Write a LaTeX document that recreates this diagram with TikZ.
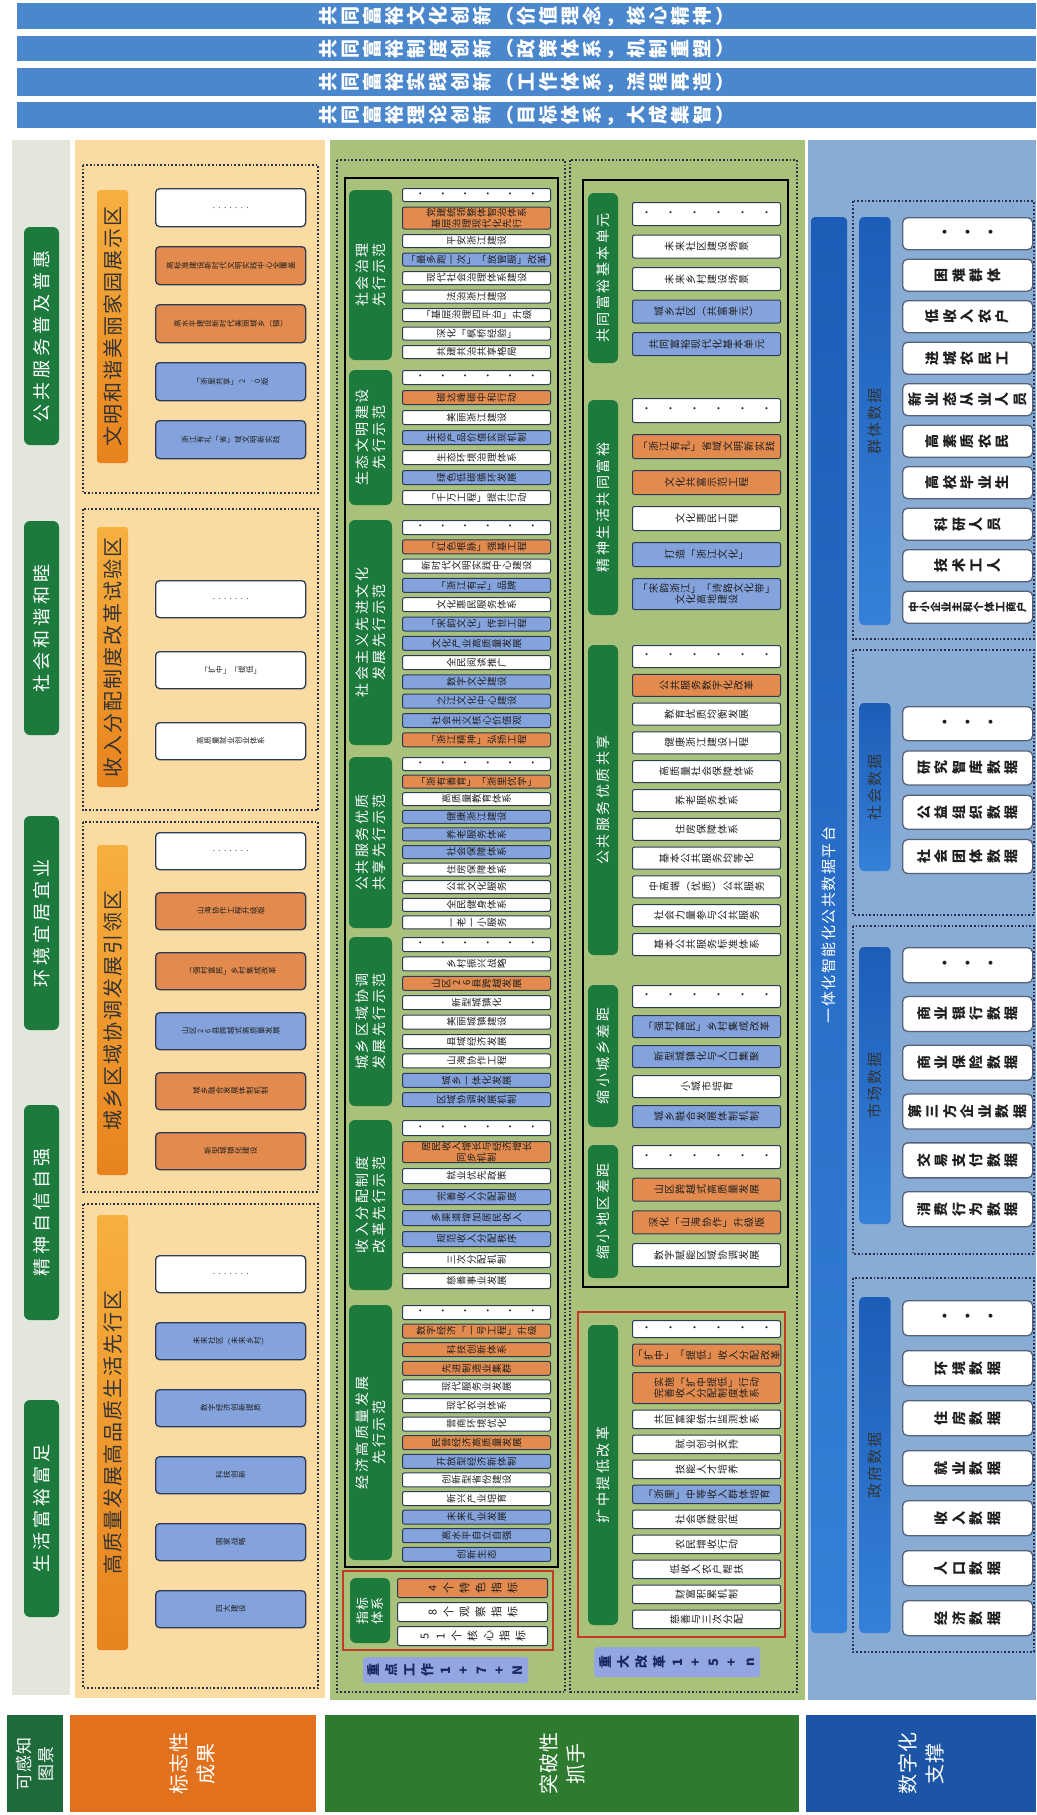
\documentclass[tikz,border=0pt]{standalone}
\usepackage{fontspec}
\setmainfont{Noto Sans CJK SC}
\makeatletter
\newdimen\vtsp
\newdimen\spsp
\newif\ifnr@
\def\vt@bar{|}
\def\nr@a{（}\def\nr@b{）}\def\nr@c{「}\def\nr@d{」}\def\nr@e{，}
\def\vt@ch{\nr@false
  \ifx\vt@c\nr@a\nr@true\fi\ifx\vt@c\nr@b\nr@true\fi\ifx\vt@c\nr@c\nr@true\fi
  \ifx\vt@c\nr@d\nr@true\fi\ifx\vt@c\nr@e\nr@true\fi
  \kern.5\vtsp\ifnr@\raisebox{0pt}[.88em][.12em]{\vt@c}\else\rotatebox[origin=c]{90}{\raisebox{0pt}[.88em][.12em]{\vt@c}}\fi\kern.5\vtsp}
\def\sp@ch{\kern.5\spsp\vt@c\kern.5\spsp}
\def\vt@loop#1{\@tfor\vt@c:=#1\do{\vt@ch}}
\def\sp@loop#1{\@tfor\vt@c:=#1\do{\sp@ch}}
\def\vt@chk#1|#2\@nil{\vt@loop{#1}\ifx\relax#2\relax\expandafter\@gobble\else\expandafter\@firstofone\fi{\\\vt@second#2}}
\def\vt@second#1|{\vt@loop{#1}}
\def\sp@chk#1|#2\@nil{\sp@loop{#1}\ifx\relax#2\relax\expandafter\@gobble\else\expandafter\@firstofone\fi{\\\sp@second#2}}
\def\sp@second#1|{\sp@loop{#1}}
\newcommand\vt[1]{\edef\vt@t{#1}\expandafter\vt@chk\vt@t|\@nil}
\newcommand\spx[1]{\edef\vt@t{#1}\expandafter\sp@chk\vt@t|\@nil}
\makeatother
\def\dmark{D}
\newcommand\dl[3]{\foreach \k in {1,...,#1}{\ifnum\k>1\hskip#2\relax\fi#3}}
\def\dotsline{}
\newcommand\blist[7][]{%
  \xdef\cury{#5}%
  \foreach \c/\h/\t [count=\i] in {#7}{%
    \ifx\t\dmark\let\nodetxt\dotsline\else\def\nodetxt{\vt{\t}}\fi
    \node[sbox,#1,fill=\c,minimum width=#4-#3,minimum height=\h,anchor=north west] (#2-\i) at (#3,\cury) {\nodetxt};
    \pgfmathsetmacro\nxt{\cury+\h+#6}%
    \xdef\cury{\nxt}}}
\definecolor{bW}{HTML}{FFFFFF}
\definecolor{bO}{HTML}{E38B4E}
\definecolor{bB}{HTML}{84A3DC}
\definecolor{bd}{HTML}{2C3A58}
\definecolor{gl}{HTML}{1B7A3C}
\definecolor{c1bg}{HTML}{E3E7DB}
\definecolor{c2bg}{HTML}{FADCA3}
\definecolor{c3bg}{HTML}{A8C27B}
\definecolor{c4bg}{HTML}{88ACD3}
\definecolor{bandc}{HTML}{4A87CC}
\definecolor{oba}{HTML}{F6B040}
\definecolor{obb}{HTML}{E8831E}
\definecolor{dkb}{HTML}{1C5DB8}
\definecolor{dkb2}{HTML}{3580D8}
\definecolor{hA}{HTML}{1D6A3A}
\definecolor{hB}{HTML}{E2711E}
\definecolor{hC}{HTML}{2E7B2F}
\definecolor{hD}{HTML}{1D55A6}
\definecolor{dotc}{HTML}{26324C}
\definecolor{kp}{HTML}{93A6E2}
\definecolor{redb}{HTML}{C23B22}
\definecolor{navy}{HTML}{1A2760}
\tikzset{
  sbox/.style={draw=bd,line width=1pt,rounded corners=2pt,inner sep=0pt,align=center,text=black!88},
  cfont/.style={font={\fontsize{9.5}{10.5}\selectfont\vtsp0.6pt}},
  rfont/.style={font={\fontsize{10}{11}\selectfont\vtsp0.6pt}},
  mfont/.style={font={\fontsize{7.5}{8.5}\selectfont\vtsp0.1pt},rounded corners=4pt,line width=1.3pt},
  dbox/.style={rounded corners=5pt,draw=bd!80,line width=1.3pt,font={\fontsize{14}{15}\selectfont\bfseries\vtsp3.5pt}},
  glab/.style={fill=gl,rounded corners=6pt,text=white,inner sep=0pt,align=center},
  obar/.style={top color=oba,bottom color=obb,rounded corners=3pt,inner sep=0pt,text=black!80,font={\fontsize{20}{22}\selectfont\spsp2pt}},
  dotbox/.style={draw=dotc,line width=1.7pt,dash pattern=on 1.7pt off 2pt},
  bandbox/.style={fill=bandc,inner sep=0pt,text=white,font={\fontsize{19}{20}\selectfont\bfseries\vtsp3pt}},
  hdr/.style={inner sep=0pt,text=white,align=center},
  keybox/.style={fill=kp,rounded corners=3pt,inner sep=0pt,text=navy,font={\fontsize{13}{14}\selectfont\bfseries\vtsp5pt}},
  dbar/.style={top color=dkb,bottom color=dkb2,rounded corners=4pt,inner sep=0pt,align=center},
}
\begin{document}
\begin{tikzpicture}[x=1pt,y=-1pt]
\useasboundingbox (0,0) rectangle (1036,1815);
\fill[white] (0,0) rectangle (1036,1815);
% ---- top bands
\foreach \i/\ya/\yb/\tx in {1/3/29/共同富裕文化创新（价值理念，核心精神）,2/36/61/共同富裕制度创新（政策体系，机制重塑）,3/68/96/共同富裕实践创新（工作体系，流程再造）,4/102/128/共同富裕理论创新（目标体系，大成集智）}
  \node[bandbox,minimum width=1019,minimum height=\yb-\ya,anchor=north west] (band\i) at (17,\ya) {\vt{\tx}};
% ---- column backgrounds
\fill[c1bg] (12,140) rectangle (70,1695);
\fill[c2bg] (75,140) rectangle (325,1698);
\fill[c3bg] (330,140) rectangle (805,1700);
\fill[c4bg] (808,140) rectangle (1036,1700);
% ---- column 1
\foreach \n/\ya/\yb/\tx in {p1/227/445/公共服务普及普惠,p2/521/735/社会和谐和睦,p3/816/1030/环境宜居宜业,p4/1105/1320/精神自信自强,p5/1400/1617/生活富裕富足}
  \node[glab,rotate=90,minimum width=\yb-\ya,minimum height=35,font={\fontsize{18}{20}\selectfont\spsp4pt}] (\n) at (41.5,{(\ya+\yb)/2}) {\spx{\tx}};
% ---- column 2
\draw[dotbox] (83,165) rectangle (318,493);
\draw[dotbox] (83,509) rectangle (318,810);
\draw[dotbox] (83,822) rectangle (318,1192);
\draw[dotbox] (83,1204) rectangle (318,1688);
\foreach \n/\ya/\yb/\tx in {m1/190/463/文明和谐美丽家园展示区,m2/527/787/收入分配制度改革试验区,m3/845/1175/城乡区域协调发展引领区,m4/1215/1650/高质量发展高品质生活先行区}
  \node[obar,rotate=90,minimum width=\yb-\ya,minimum height=31] (\n) at (112.5,{(\ya+\yb)/2}) {\spx{\tx}};
\def\dotsline{\dl{7}{3.5pt}{.}}
\blist[mfont]{A}{155}{305}{188}{20}{bW/38/D,bO/38/高标准建设新时代文明实践中心全覆盖,bO/38/高水平建设新时代美丽城乡（镇）,bB/38/「浙里共享」2.0版,bB/38/浙江有礼「省」域文明新实践}
\blist[mfont]{B}{155}{305}{580}{34}{bW/37/D,bW/37/「扩中」「提低」,bW/37/高质量就业创业体系}
\blist[mfont]{C}{155}{305}{832}{23}{bW/37/D,bO/37/山海协作工程升级版,bO/37/「强村富民」乡村集成改革,bB/37/山区26县跨越式高质量发展,bO/37/城乡融合发展体制机制,bO/37/新型城镇化建设}
\blist[mfont]{E}{155}{305}{1255}{30}{bW/37/D,bB/37/未来社区（未来乡村）,bB/37/数字经济创新提质,bB/37/科技创新,bB/37/国家战略,bB/37/四大建设}
% ---- column 3 frames
\draw[dotbox] (337,160) rectangle (565,1692);
\draw[dotbox] (570,160) rectangle (797,1692);
\draw[black,line width=1.4pt] (345,178) rectangle (558,1567);
\draw[redb,line width=1.6pt] (343,1571) rectangle (553,1650);
\draw[black,line width=1.4pt] (583,180) rectangle (788,1287);
\draw[redb,line width=1.6pt] (578,1312) rectangle (785,1637);
% left labels
\foreach \n/\ya/\yb/\tx in {s1/190/360/社会治理|先行示范,s2/370/505/生态文明建设|先行示范,s3/520/745/社会主义先进文化|发展先行示范,s4/757/928/公共服务优质|共享先行示范,s5/937/1106/城乡区域协调|发展先行示范,s6/1120/1290/收入分配制度|改革先行示范,s7/1305/1560/经济高质量发展|先行示范}
  \node[glab,rotate=90,minimum width=\yb-\ya,minimum height=43,font={\fontsize{14}{17}\selectfont\spsp2.5pt}] (\n) at (370.5,{(\ya+\yb)/2}) {\spx{\tx}};
\def\dotsline{\dl{6}{13pt}{·}}
\blist[cfont]{L1}{402}{550}{188}{5.5}{bW/13/D,bO/22/党建统领整体智治体系|基层治理现代化先行,bW/13/平安浙江建设,bB/13/「最多跑一次」「放管服」改革,bW/13/现代社会治理体系建设,bW/13/法治浙江建设,bW/13/「基层治理四平台」升级,bW/13/深化「枫桥经验」,bW/13/共建共治共享格局}
\blist[cfont]{L2}{402}{550}{370}{6}{bW/14/D,bO/14/碳达峰碳中和行动,bW/14/美丽浙江建设,bB/14/生态产品价值实现机制,bW/14/生态环境治理体系,bB/14/绿色低碳循环发展,bW/14/「千万工程」提升行动}
\blist[cfont]{L3}{402}{550}{520}{5.3}{bW/14/D,bO/14/「红色根脉」强基工程,bW/14/新时代文明实践中心建设,bB/14/「浙江有礼」品牌,bW/14/文化惠民服务体系,bB/14/「宋韵文化」传世工程,bB/14/文化产业高质量发展,bW/14/全民阅读推广,bB/14/数字文化建设,bB/14/之江文化中心建设,bB/14/社会主义核心价值观,bO/14/「浙江精神」弘扬工程}
\blist[cfont]{L4}{402}{550}{757}{4.6}{bW/13/D,bO/13/「浙有善育」「浙里优学」,bW/13/高质量教育体系,bB/13/健康浙江建设,bB/13/养老服务体系,bB/13/社会保障体系,bW/13/住房保障体系,bW/13/公共文化服务,bW/13/全民健身体系,bW/13/一老一小服务}
\blist[cfont]{L5}{402}{550}{937}{5.4}{bW/14/D,bW/14/乡村振兴战略,bO/14/山区26县跨越发展,bW/14/新型城镇化,bW/14/美丽城镇建设,bW/14/县域经济发展,bW/14/山海协作工程,bB/14/城乡一体化发展,bB/14/区域协调发展机制}
\blist[cfont]{L6}{402}{550}{1120}{6}{bW/15/D,bO/21/居民收入增长与经济增长|同步机制,bW/15/就业优先政策,bB/15/完善收入分配制度,bB/15/多渠道增加居民收入,bB/15/规范收入分配秩序,bW/15/三次分配机制,bW/15/慈善事业发展}
\blist[cfont]{L7}{402}{550}{1305}{4.6}{bW/14/D,bO/14/数字经济「一号工程」升级,bO/14/科技创新体系,bO/14/先进制造业集群,bW/14/现代服务业发展,bW/14/现代农业体系,bW/14/营商环境优化,bO/14/民营经济高质量发展,bB/14/开放型经济新体制,bW/14/创新型省份建设,bW/14/新兴产业培育,bB/14/未来产业发展,bB/14/高水平自立自强,bB/14/创新生态}
% indicator system
\node[glab,rotate=90,minimum width=65,minimum height=40,font={\fontsize{13}{15}\selectfont\spsp1pt}] (zb) at (370,1610.5) {\spx{指标|体系}};
\blist[cfont,font={\fontsize{11}{12}\selectfont\vtsp5pt}]{Z}{397}{547}{1578}{5}{bO/19/4个特色指标,bW/19/8个观察指标,bW/19/51个核心指标}
\node[keybox,minimum width=165,minimum height=26,anchor=north west] (kw) at (363,1657) {\vt{重点工作1+7+N}};
% right labels
\foreach \n/\ya/\yb/\tx in {r1/193/363/共同富裕基本单元,r2/400/615/精神生活共同富裕,r3/645/955/公共服务优质共享,r4/985/1127/缩小城乡差距,r5/1145/1278/缩小地区差距,r6/1325/1625/扩中提低改革}
  \node[glab,rotate=90,minimum width=\yb-\ya,minimum height=30,font={\fontsize{14}{16}\selectfont\spsp2.5pt}] (\n) at (603,{(\ya+\yb)/2}) {\spx{\tx}};
\def\dotsline{\dl{6}{14pt}{·}}
\blist[rfont]{R1}{632}{780}{202}{9.5}{bW/23/D,bW/23/未来社区建设场景,bW/23/未来乡村建设场景,bB/23/城乡社区（共富单元）,bB/23/共同富裕现代化基本单元}
\blist[rfont]{R2}{632}{780}{398}{12}{bW/24/D,bO/24/「浙江有礼」省域文明新实践,bO/24/文化共富示范工程,bW/24/文化惠民工程,bB/24/打造「浙江文化」,bB/31/「宋韵浙江」「诗路文化带」|文化高地建设}
\blist[rfont]{R3}{632}{780}{645}{6.8}{bW/22/D,bO/22/公共服务数字化改革,bW/22/教育优质均衡发展,bW/22/健康浙江建设工程,bW/22/高质量社会保障体系,bW/22/养老服务体系,bW/22/住房保障体系,bW/22/基本公共服务均等化,bW/22/中高端（优质）公共服务,bW/22/社会力量参与公共服务,bW/22/基本公共服务标准体系}
\blist[rfont]{R4}{632}{780}{985}{8}{bW/22/D,bB/22/「强村富民」乡村集成改革,bB/22/新型城镇化与人口集聚,bW/22/小城市培育,bB/22/城乡融合发展体制机制}
\blist[rfont]{R5}{632}{780}{1145}{9.7}{bW/23/D,bO/23/山区跨越式高质量发展,bO/23/深化「山海协作」升级版,bW/23/数字赋能区域协调发展}
\blist[rfont]{R6}{632}{780}{1320}{6.5}{bW/17/D,bO/22/「扩中」「提低」收入分配改革,bO/31/实施「扩中提低」行动|完善收入分配制度体系,bW/18.5/共同富裕统计监测体系,bW/18.5/就业创业支持,bW/18.5/技能人才培养,bB/18.5/「浙里」中等收入群体培育,bW/18.5/社会保障兜底,bW/18.5/农民增收行动,bW/18.5/低收入农户帮扶,bW/18.5/财富积累机制,bW/18.5/慈善与三次分配}
\node[keybox,minimum width=166,minimum height=30,anchor=north west] (zg) at (594,1647) {\vt{重大改革1+5+n}};
% ---- column 4
\node[dbar,rotate=90,minimum width=1416,minimum height=36,text=white,font={\fontsize{15}{16}\selectfont\spsp1.5pt}] (plat) at (829,925) {\spx{一体化智能化公共数据平台}};
\draw[dotbox] (853,201) rectangle (1034,639);
\draw[dotbox] (853,650) rectangle (1034,915);
\draw[dotbox] (853,926) rectangle (1034,1254);
\draw[dotbox] (853,1278) rectangle (1034,1652);
\foreach \n/\ya/\yb/\tx in {g1/217/625/群体数据,g2/703/871/社会数据,g3/947/1224/市场数据,g4/1297/1633/政府数据}
  \node[dbar,rotate=90,minimum width=\yb-\ya,minimum height=31,text=black!80,font={\fontsize{15}{16}\selectfont\spsp2pt}] (\n) at (875,{(\ya+\yb)/2}) {\spx{\tx}};
\def\dotsline{\dl{3}{9pt}{·}}
\blist[dbox]{Q}{902}{1032}{217}{9.5}{bW/32/D,bW/32/困难群体,bW/32/低收入农户,bW/32/进城农民工,bW/32/新业态从业人员,bW/32/高素质农民,bW/32/高校毕业生,bW/32/科研人员,bW/32/技术工人}
\node[sbox,dbox,fill=white,minimum width=130,minimum height=32,anchor=north west,font={\fontsize{10.5}{12}\selectfont\bfseries\vtsp0.3pt}] (Q-10) at (902,590.5) {\vt{中小企业主和个体工商户}};
\blist[dbox]{S}{902}{1032}{706}{10.3}{bW/34/D,bW/34/研究智库数据,bW/34/公益组织数据,bW/34/社会团体数据}
\blist[dbox]{M}{902}{1032}{947}{13.8}{bW/35/D,bW/35/商业银行数据,bW/35/商业保险数据,bW/35/第三方企业数据,bW/35/交易支付数据,bW/35/消费行为数据}
\blist[dbox]{G}{902}{1032}{1300}{15}{bW/35/D,bW/35/环境数据,bW/35/住房数据,bW/35/就业数据,bW/35/收入数据,bW/35/人口数据,bW/35/经济数据}
% ---- bottom headers
\node[hdr,fill=hA,rotate=90,minimum width=97,minimum height=56,font={\fontsize{17}{22}\selectfont\spsp1pt}] (H1) at (35,1763.5) {\spx{可感知|图景}};
\node[hdr,fill=hB,rotate=90,minimum width=97,minimum height=246,font={\fontsize{20}{27}\selectfont\spsp1pt}] (H2) at (192.5,1763.5) {\spx{标志性|成果}};
\node[hdr,fill=hC,rotate=90,minimum width=97,minimum height=474,font={\fontsize{20}{27}\selectfont\spsp1pt}] (H3) at (562,1763.5) {\spx{突破性|抓手}};
\node[hdr,fill=hD,rotate=90,minimum width=97,minimum height=230,font={\fontsize{20}{27}\selectfont\spsp1pt}] (H4) at (921,1763.5) {\spx{数字化|支撑}};
\end{tikzpicture}
\end{document}
